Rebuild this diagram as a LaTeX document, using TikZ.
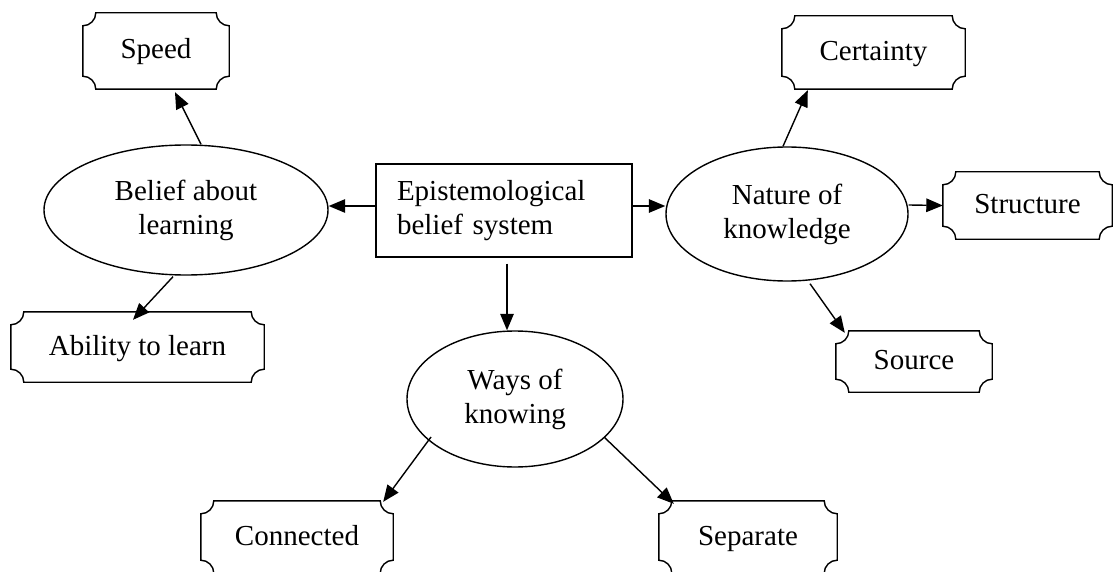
\documentclass[tikz,border=0pt]{standalone}
\usepackage{fontspec}
\setmainfont{Liberation Serif}
\usetikzlibrary{arrows.meta,shapes.geometric}
\tikzset{
  lw/.style={line width=1.4pt},
  txt/.style={font=\fontsize{29}{34}\selectfont, align=center, inner sep=0pt},
  oval/.style={ellipse, draw, lw, txt},
  mainbox/.style={rectangle, draw, lw, font=\fontsize{29}{34}\selectfont, align=left,
    text width=214pt, inner xsep=21pt, inner ysep=0pt, minimum height=93pt},
  plaque/.style={rectangle, txt, text height=21pt, text depth=5pt},
  arr/.style={lw, -{Triangle[length=16.5pt,width=13.5pt]}}
}
\newcommand\plaqueframe[1]{%
  \draw[lw] ([xshift=13pt]#1.north west) -- ([xshift=-13pt]#1.north east)
    arc[start angle=180,end angle=270,radius=13pt]
    -- ([yshift=13pt]#1.south east)
    arc[start angle=90,end angle=180,radius=13pt]
    -- ([xshift=13pt]#1.south west)
    arc[start angle=0,end angle=90,radius=13pt]
    -- ([yshift=-13pt]#1.north west)
    arc[start angle=270,end angle=360,radius=13pt] -- cycle;}
\begin{document}
\begin{tikzpicture}[x=1pt,y=1pt]
\useasboundingbox (0,0) rectangle (1113,-572);

% central box
\node[mainbox, minimum width=256pt] (main) at (504,-210.5) {Epistemological\\belief system};

% ellipses
\node[oval, minimum width=284pt, minimum height=130pt] (belief) at (186,-210) {Belief about\\learning};
\node[oval, minimum width=242pt, minimum height=134pt] (nature) at (787,-214) {Nature of\\knowledge};
\node[oval, minimum width=216pt, minimum height=136pt] (ways) at (515,-399) {Ways of\\knowing};

% plaques
\node[plaque, minimum width=146pt, minimum height=76pt] (speed) at (156,-51) {Speed};
\node[plaque, minimum width=253pt, minimum height=70pt] (ability) at (137.5,-347) {Ability to learn};
\node[plaque, minimum width=183pt, minimum height=73pt] (certainty) at (873.5,-52.5) {Certainty};
\node[plaque, minimum width=169pt, minimum height=67pt] (structure) at (1027.5,-205.5) {Structure};
\node[plaque, minimum width=156pt, minimum height=61pt] (source) at (914,-361.5) {Source};
\node[plaque, minimum width=192pt, minimum height=72pt] (connected) at (297,-537) {Connected};
\node[plaque, minimum width=178pt, minimum height=72pt] (separate) at (748,-537) {Separate};

\plaqueframe{speed}
\plaqueframe{ability}
\plaqueframe{certainty}
\plaqueframe{structure}
\plaqueframe{source}
\plaqueframe{connected}
\plaqueframe{separate}

% connectors
\draw[arr] ([yshift=4.5pt]main.west) -- ([yshift=4pt]belief.east);
\draw[arr] ([yshift=4.5pt]main.east) -- ([yshift=8pt]nature.west);
\draw[arr] ([xshift=3pt,yshift=-6pt]main.south) -- ([xshift=-8pt]ways.north);

\draw[arr] ([xshift=15pt]belief.north) -- ([xshift=19pt,yshift=-3pt]speed.south);
\draw[arr] ([xshift=-13pt,yshift=-1pt]belief.south) -- ([xshift=-4.5pt,yshift=-8pt]ability.north);

\draw[arr] ([xshift=-4pt]nature.north) -- ([xshift=26pt,yshift=-1pt]certainty.south west);
\draw[arr] ([yshift=9pt]nature.east) -- (structure.west);
\draw[arr] ([xshift=23pt,yshift=-2pt]nature.south) -- ([xshift=9pt,yshift=-2pt]source.north west);

\draw[arr] ([xshift=-84pt,yshift=-38pt]ways.center) -- ([xshift=-10pt,yshift=-1pt]connected.north east);
\draw[arr] ([xshift=89pt,yshift=-38pt]ways.center) -- ([xshift=15pt,yshift=-3pt]separate.north west);
\end{tikzpicture}
\end{document}
